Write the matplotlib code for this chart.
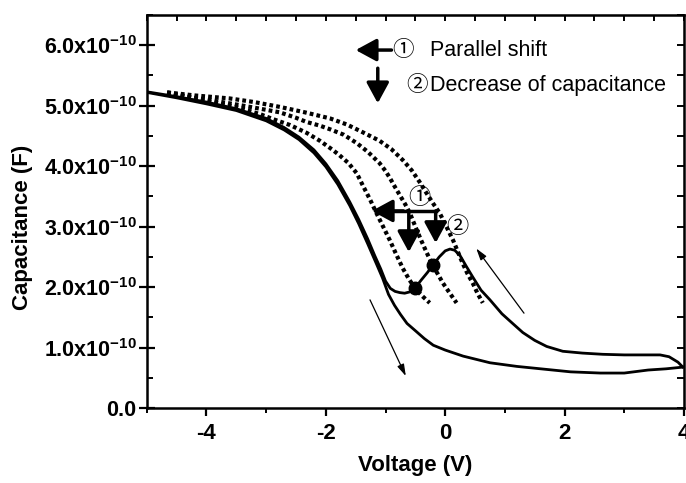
import numpy as np
import matplotlib
matplotlib.use("Agg")
import matplotlib.pyplot as plt
from matplotlib.ticker import MultipleLocator, FixedLocator, FixedFormatter

plt.rcParams['font.family'] = ['Liberation Sans', 'Noto Sans CJK JP', 'DejaVu Sans']
plt.rcParams['mathtext.fontset'] = 'custom'
plt.rcParams['mathtext.rm'] = 'Liberation Sans'
plt.rcParams['mathtext.bf'] = 'Liberation Sans:bold'

# capacitance values are in units of 1e-10 F
SCALE = 1e-10

# forward sweep (-5 V -> 4 V), lower branch
fwd_v = [-5.0, -4.5, -4.0, -3.5, -3.0, -2.7, -2.45, -2.2, -2.0, -1.8, -1.6, -1.45,
         -1.3, -1.15, -1.05, -0.95, -0.85, -0.75, -0.64, -0.5, -0.35, -0.2, 0.0,
         0.3, 0.75, 1.2, 1.6, 2.1, 2.6, 3.0, 3.4, 3.7, 4.0]
fwd_c = [5.22, 5.13, 5.03, 4.92, 4.75, 4.60, 4.44, 4.22, 3.99, 3.70, 3.35, 3.05,
         2.72, 2.38, 2.15, 1.88, 1.70, 1.55, 1.40, 1.28, 1.15, 1.04, 0.96,
         0.86, 0.75, 0.69, 0.65, 0.60, 0.58, 0.58, 0.63, 0.65, 0.68]

# reverse sweep (4 V -> -5 V), upper branch with the hump
rev_v = [-5.0, -4.5, -4.0, -3.5, -3.0, -2.7, -2.45, -2.2, -2.0, -1.8, -1.6, -1.45,
         -1.3, -1.18, -1.08, -1.0, -0.92, -0.84, -0.76, -0.68, -0.6, -0.51, -0.4,
         -0.3, -0.21, -0.1, 0.0, 0.08, 0.16, 0.25, 0.35, 0.46, 0.6, 0.75, 0.95,
         1.13, 1.3, 1.5, 1.7, 1.97, 2.3, 2.64, 3.0, 3.4, 3.6, 3.75, 3.9, 3.98]
rev_c = [5.23, 5.15, 5.06, 4.95, 4.79, 4.64, 4.48, 4.27, 4.04, 3.76, 3.41, 3.12,
         2.80, 2.52, 2.30, 2.10, 1.98, 1.93, 1.91, 1.90, 1.92, 1.98, 2.12,
         2.24, 2.36, 2.50, 2.60, 2.63, 2.61, 2.52, 2.35, 2.17, 1.95, 1.79, 1.56,
         1.40, 1.25, 1.12, 1.02, 0.94, 0.91, 0.89, 0.88, 0.88, 0.88, 0.85, 0.76, 0.68]

# dotted reference curves (shifted C-V)
dot1_v = [-4.66, -4.2, -3.8, -3.44, -3.1, -2.89, -2.6, -2.32, -2.1, -1.9, -1.77, -1.62,
          -1.48, -1.38, -1.26, -1.15, -1.04, -0.93, -0.82, -0.71, -0.6, -0.48, -0.37, -0.26]
dot1_c = [5.21, 5.12, 5.04, 4.96, 4.86, 4.78, 4.68, 4.55, 4.42, 4.28, 4.18, 4.05,
          3.88, 3.68, 3.45, 3.22, 3.00, 2.78, 2.54, 2.31, 2.12, 1.95, 1.84, 1.74]
dot2_v = [-4.66, -4.2, -3.8, -3.44, -3.1, -2.77, -2.5, -2.32, -2.1, -1.93, -1.7, -1.48,
          -1.3, -1.1, -1.0, -0.93, -0.85, -0.76, -0.67, -0.59, -0.5, -0.41, -0.31,
          -0.21, -0.12, -0.04, 0.07, 0.19]
dot2_c = [5.22, 5.13, 5.07, 5.01, 4.95, 4.89, 4.80, 4.73, 4.67, 4.61, 4.52, 4.38,
          4.24, 4.05, 3.92, 3.81, 3.67, 3.52, 3.37, 3.22, 3.00, 2.79, 2.57,
          2.36, 2.21, 2.07, 1.91, 1.74]
dot3_v = [-4.66, -4.2, -3.61, -3.2, -2.77, -2.35, -1.93, -1.65, -1.38, -1.1, -0.9, -0.71,
          -0.56, -0.43, -0.31, -0.2, -0.09, 0.02, 0.13, 0.21, 0.29, 0.37, 0.46, 0.54, 0.63]
dot3_c = [5.22, 5.17, 5.12, 5.06, 4.98, 4.89, 4.79, 4.69, 4.56, 4.42, 4.28, 4.10,
          3.93, 3.74, 3.55, 3.38, 3.22, 3.00, 2.78, 2.59, 2.40, 2.23, 2.07, 1.90, 1.74]

# marked points on the hump
mark_v = [-0.51, -0.21]
mark_c = [1.98, 2.36]

yticks = [0, 1, 2, 3, 4, 5, 6]
ytick_labels = ['0.0'] + [r'$\mathbf{%d.0x10^{-10}}$' % t for t in yticks[1:]]
xticks = [-4, -2, 0, 2, 4]

fig = plt.figure(figsize=(6.86, 4.83), dpi=100)
ax = fig.add_axes([0.214, 0.155, 0.783, 0.814])

ax.plot(np.array(fwd_v), np.array(fwd_c) * SCALE, color='black', lw=2.0)
ax.plot(np.array(rev_v), np.array(rev_c) * SCALE, color='black', lw=2.0)
for vv, cc in [(dot1_v, dot1_c), (dot2_v, dot2_c), (dot3_v, dot3_c)]:
    ax.plot(np.array(vv), np.array(cc) * SCALE, color='black', lw=3.0,
            linestyle=(0, (0.9, 0.75)), dash_capstyle='butt')
ax.plot(np.array(mark_v), np.array(mark_c) * SCALE, 'o', color='black', ms=9)

# thick arrows: parallel shift / decrease
ax.plot([-1.0, -0.16], [3.26e-10, 3.26e-10], color='black', lw=2.5)
big = dict(arrowstyle='-|>,head_length=0.7,head_width=0.38', color='black', lw=2.5,
           shrinkA=0, shrinkB=0, mutation_scale=18)
ax.annotate('', xy=(-1.23, 3.26e-10), xytext=(-0.7, 3.26e-10), arrowprops=big)
ax.annotate('', xy=(-0.61, 2.58e-10), xytext=(-0.61, 3.26e-10), arrowprops=big)
ax.annotate('', xy=(-0.16, 2.73e-10), xytext=(-0.16, 3.26e-10), arrowprops=big)
ax.text(-0.43, 3.47e-10, '①', fontsize=16, ha='center', va='center')
ax.text(0.21, 2.98e-10, '②', fontsize=16, ha='center', va='center')

# thin sweep-direction arrows
thin = dict(arrowstyle='-|>,head_length=0.5,head_width=0.15', color='black', lw=0.9,
            shrinkA=0, shrinkB=0, mutation_scale=14)
ax.annotate('', xy=(-0.66, 0.53e-10), xytext=(-1.26, 1.79e-10), arrowprops=thin)
ax.annotate('', xy=(0.52, 2.64e-10), xytext=(1.32, 1.57e-10), arrowprops=thin)

# key in the upper part
ax.annotate('', xy=(-1.5, 5.92e-10), xytext=(-0.9, 5.92e-10), arrowprops=big)
ax.annotate('', xy=(-1.13, 5.04e-10), xytext=(-1.13, 5.62e-10), arrowprops=big)
ax.text(-0.70, 5.92e-10, '①', fontsize=15.5, ha='center', va='center')
ax.text(-0.48, 5.34e-10, '②', fontsize=15.5, ha='center', va='center')
ax.text(-0.26, 5.92e-10, 'Parallel shift', fontsize=15.5, ha='left', va='center')
ax.text(-0.26, 5.34e-10, 'Decrease of capacitance', fontsize=15.5, ha='left', va='center')

ax.set_xlim(-5, 4)
ax.set_ylim(0, 6.5e-10)
ax.xaxis.set_major_locator(FixedLocator(xticks))
ax.xaxis.set_minor_locator(MultipleLocator(1))
ax.yaxis.set_major_locator(FixedLocator([t * SCALE for t in yticks]))
ax.yaxis.set_major_formatter(FixedFormatter(ytick_labels))
ax.yaxis.set_minor_locator(MultipleLocator(0.5e-10))
ax.set_xticklabels(['-4', '-2', '0', '2', '4'])

for s in ax.spines.values():
    s.set_linewidth(1.8)
ax.tick_params(axis='x', which='major', direction='out', length=6, width=1.6,
               labelsize=16, pad=5)
ax.tick_params(axis='x', which='minor', direction='out', length=3.5, width=1.4)
ax.tick_params(axis='y', which='major', direction='inout', length=11, width=1.6,
               labelsize=15.5, pad=2)
ax.tick_params(axis='y', which='minor', direction='in', length=4, width=1.4)
for lab in ax.get_xticklabels() + ax.get_yticklabels():
    lab.set_fontweight('bold')

top = ax.secondary_xaxis('top')
top.xaxis.set_major_locator(MultipleLocator(0.5))
top.tick_params(direction='in', length=4, width=1.4, labeltop=False)
right = ax.secondary_yaxis('right')
right.yaxis.set_major_locator(MultipleLocator(0.5e-10))
right.tick_params(direction='in', length=5, width=1.4, labelright=False)

ax.set_xlabel('Voltage (V)', fontsize=16, fontweight='bold')
ax.set_ylabel('Capacitance (F)', fontsize=16, fontweight='bold')
ax.xaxis.set_label_coords(0.5, -0.118)
ax.yaxis.set_label_coords(-0.212, 0.46)

fig.savefig('out.png', dpi=100)
